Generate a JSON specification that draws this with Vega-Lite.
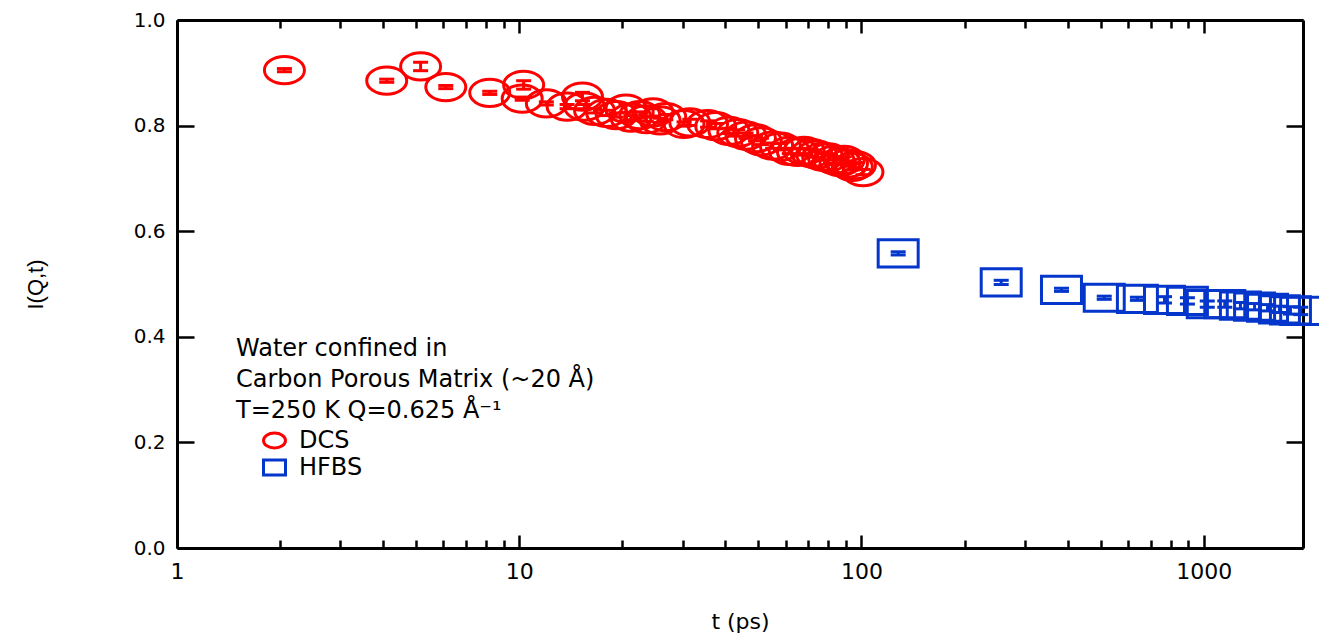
{
  "$schema": "https://vega.github.io/schema/vega-lite/v6.json",
  "width": 1126,
  "height": 528,
  "autosize": "none",
  "padding": {"left": 177, "top": 20, "right": 16, "bottom": 90},
  "background": "white",
  "config": {
    "view": {"stroke": null},
    "font": "DejaVu Sans",
    "axis": {
      "domainColor": "black", "domainWidth": 3, "tickColor": "black", "tickWidth": 2.5,
      "labelColor": "black", "titleColor": "black", "labelFont": "DejaVu Sans", "titleFont": "DejaVu Sans",
      "labelFontSize": 20, "titleFontSize": 22, "titleFontWeight": "normal", "grid": false
    }
  },
  "data": {"values": [
    {"series": "DCS", "t": 2.06, "I": 0.905, "lo": 0.902, "hi": 0.908},
    {"series": "DCS", "t": 4.1, "I": 0.885, "lo": 0.882, "hi": 0.888},
    {"series": "DCS", "t": 5.15, "I": 0.912, "lo": 0.904, "hi": 0.920},
    {"series": "DCS", "t": 6.1, "I": 0.873, "lo": 0.870, "hi": 0.876},
    {"series": "DCS", "t": 8.2, "I": 0.862, "lo": 0.859, "hi": 0.865},
    {"series": "DCS", "t": 10.3, "I": 0.877, "lo": 0.869, "hi": 0.885},
    {"series": "DCS", "t": 10.2, "I": 0.851, "lo": 0.848, "hi": 0.854},
    {"series": "DCS", "t": 12.0, "I": 0.842, "lo": 0.839, "hi": 0.845},
    {"series": "DCS", "t": 13.8, "I": 0.836, "lo": 0.832, "hi": 0.840},
    {"series": "DCS", "t": 15.3, "I": 0.855, "lo": 0.847, "hi": 0.863},
    {"series": "DCS", "t": 15.5, "I": 0.836, "lo": 0.832, "hi": 0.840},
    {"series": "DCS", "t": 16.6, "I": 0.828, "lo": 0.824, "hi": 0.832},
    {"series": "DCS", "t": 18.0, "I": 0.824, "lo": 0.819, "hi": 0.829},
    {"series": "DCS", "t": 19.2, "I": 0.820, "lo": 0.816, "hi": 0.824},
    {"series": "DCS", "t": 20.5, "I": 0.832, "lo": 0.825, "hi": 0.839},
    {"series": "DCS", "t": 21.2, "I": 0.815, "lo": 0.811, "hi": 0.819},
    {"series": "DCS", "t": 22.5, "I": 0.820, "lo": 0.814, "hi": 0.826},
    {"series": "DCS", "t": 23.5, "I": 0.812, "lo": 0.808, "hi": 0.816},
    {"series": "DCS", "t": 24.6, "I": 0.825, "lo": 0.818, "hi": 0.832},
    {"series": "DCS", "t": 25.8, "I": 0.810, "lo": 0.806, "hi": 0.814},
    {"series": "DCS", "t": 26.8, "I": 0.816, "lo": 0.811, "hi": 0.821},
    {"series": "DCS", "t": 30.3, "I": 0.803, "lo": 0.799, "hi": 0.807},
    {"series": "DCS", "t": 31.5, "I": 0.806, "lo": 0.800, "hi": 0.812},
    {"series": "DCS", "t": 35.5, "I": 0.803, "lo": 0.797, "hi": 0.809},
    {"series": "DCS", "t": 37.5, "I": 0.799, "lo": 0.794, "hi": 0.804},
    {"series": "DCS", "t": 41, "I": 0.790, "lo": 0.785, "hi": 0.795},
    {"series": "DCS", "t": 43.5, "I": 0.786, "lo": 0.780, "hi": 0.792},
    {"series": "DCS", "t": 46, "I": 0.781, "lo": 0.776, "hi": 0.786},
    {"series": "DCS", "t": 49, "I": 0.776, "lo": 0.771, "hi": 0.781},
    {"series": "DCS", "t": 51, "I": 0.770, "lo": 0.764, "hi": 0.776},
    {"series": "DCS", "t": 55, "I": 0.762, "lo": 0.757, "hi": 0.767},
    {"series": "DCS", "t": 58, "I": 0.760, "lo": 0.754, "hi": 0.766},
    {"series": "DCS", "t": 61.5, "I": 0.752, "lo": 0.747, "hi": 0.757},
    {"series": "DCS", "t": 65, "I": 0.750, "lo": 0.744, "hi": 0.756},
    {"series": "DCS", "t": 68, "I": 0.752, "lo": 0.747, "hi": 0.757},
    {"series": "DCS", "t": 71.5, "I": 0.748, "lo": 0.742, "hi": 0.754},
    {"series": "DCS", "t": 74, "I": 0.745, "lo": 0.740, "hi": 0.750},
    {"series": "DCS", "t": 77, "I": 0.741, "lo": 0.735, "hi": 0.747},
    {"series": "DCS", "t": 80, "I": 0.740, "lo": 0.735, "hi": 0.745},
    {"series": "DCS", "t": 83, "I": 0.735, "lo": 0.729, "hi": 0.741},
    {"series": "DCS", "t": 86.5, "I": 0.731, "lo": 0.726, "hi": 0.736},
    {"series": "DCS", "t": 89, "I": 0.735, "lo": 0.729, "hi": 0.741},
    {"series": "DCS", "t": 91, "I": 0.728, "lo": 0.723, "hi": 0.733},
    {"series": "DCS", "t": 94, "I": 0.722, "lo": 0.716, "hi": 0.728},
    {"series": "DCS", "t": 96, "I": 0.725, "lo": 0.720, "hi": 0.730},
    {"series": "DCS", "t": 101, "I": 0.712, "lo": 0.707, "hi": 0.717},
    {"series": "HFBS", "t": 128, "I": 0.558, "lo": 0.555, "hi": 0.561},
    {"series": "HFBS", "t": 256, "I": 0.503, "lo": 0.499, "hi": 0.507},
    {"series": "HFBS", "t": 384, "I": 0.489, "lo": 0.486, "hi": 0.492},
    {"series": "HFBS", "t": 512, "I": 0.474, "lo": 0.471, "hi": 0.477},
    {"series": "HFBS", "t": 640, "I": 0.472, "lo": 0.469, "hi": 0.475},
    {"series": "HFBS", "t": 768, "I": 0.470, "lo": 0.464, "hi": 0.476},
    {"series": "HFBS", "t": 896, "I": 0.468, "lo": 0.462, "hi": 0.474},
    {"series": "HFBS", "t": 1024, "I": 0.462, "lo": 0.456, "hi": 0.468},
    {"series": "HFBS", "t": 1152, "I": 0.462, "lo": 0.456, "hi": 0.468},
    {"series": "HFBS", "t": 1280, "I": 0.459, "lo": 0.453, "hi": 0.465},
    {"series": "HFBS", "t": 1408, "I": 0.457, "lo": 0.451, "hi": 0.463},
    {"series": "HFBS", "t": 1536, "I": 0.455, "lo": 0.449, "hi": 0.461},
    {"series": "HFBS", "t": 1664, "I": 0.452, "lo": 0.446, "hi": 0.458},
    {"series": "HFBS", "t": 1792, "I": 0.450, "lo": 0.443, "hi": 0.457},
    {"series": "HFBS", "t": 1920, "I": 0.449, "lo": 0.442, "hi": 0.456}
  ]},
  "layer": [
    {
      "mark": {"type": "point", "filled": false, "strokeWidth": 3, "size": 1600, "opacity": 1},
      "encoding": {
        "x": {"field": "t", "type": "quantitative", "scale": {"type": "log", "domain": [1, 1950], "nice": false},
          "axis": {"orient": "bottom", "title": "t (ps)", "titlePadding": 24, "labelFontSize": 22,
            "values": [1,2,3,4,5,6,7,8,9,10,20,30,40,50,60,70,80,90,100,200,300,400,500,600,700,800,900,1000],
            "labelExpr": "indexof([1,10,100,1000], datum.value) >= 0 ? format(datum.value, 'd') : ''",
            "labelOverlap": false, "labelFlush": false, "labelPadding": 26,
            "tickSize": {"condition": {"test": "indexof([1,10,100,1000], datum.value) >= 0", "value": -13}, "value": -8}}},
        "y": {"field": "I", "type": "quantitative", "scale": {"domain": [0, 1], "nice": false},
          "axis": {"orient": "left", "title": "I(Q,t)", "titleFont": "Liberation Sans", "titlePadding": 86,
            "values": [0, 0.2, 0.4, 0.6, 0.8, 1.0], "format": ".1f", "tickSize": -17, "labelPadding": 29}},
        "stroke": {"field": "series", "type": "nominal", "scale": {"domain": ["DCS", "HFBS"], "range": ["#ff0000", "#0536cc"]},
          "legend": {"orient": "none", "legendX": 59, "legendY": 317,
            "title": ["Water confined in", "Carbon Porous Matrix (~20 Å)", "\u00a0T=250 K Q=0.625 Å⁻¹"],
            "titleFont": "DejaVu Sans", "titleFontSize": 24, "titleFontWeight": "normal", "titleColor": "black",
            "titleLineHeight": 31, "titlePadding": 5, "titleLimit": 600,
            "labelFont": "DejaVu Sans", "labelFontSize": 24, "labelColor": "black", "symbolSize": 484, "symbolStrokeWidth": 3,
            "symbolOffset": 26, "labelOffset": 12, "rowPadding": 0, "padding": 0}},
        "shape": {"field": "series", "type": "nominal",
          "scale": {"domain": ["DCS", "HFBS"], "range": ["M-1,0A1,0.68,0,1,1,1,0A1,0.68,0,1,1,-1,0Z", "M-1,-0.68H1V0.68H-1Z"]}}
      }
    },
    {
      "mark": {"type": "rule", "strokeWidth": 3, "opacity": 1},
      "encoding": {
        "x": {"field": "t", "type": "quantitative",
          "axis": {"orient": "top", "title": null, "labels": false,
            "values": [1,2,3,4,5,6,7,8,9,10,20,30,40,50,60,70,80,90,100,200,300,400,500,600,700,800,900,1000],
            "tickSize": {"condition": {"test": "indexof([1,10,100,1000], datum.value) >= 0", "value": -13}, "value": -8}}},
        "y": {"field": "lo", "type": "quantitative",
          "axis": {"orient": "right", "title": null, "labels": false, "values": [0, 0.2, 0.4, 0.6, 0.8, 1.0], "tickSize": -17}},
        "y2": {"field": "hi"},
        "color": {"condition": {"test": "datum.series === 'DCS'", "value": "#ff0000"}, "value": "#0536cc"}
      }
    },
    {
      "mark": {"type": "tick", "orient": "horizontal", "size": 15, "thickness": 3, "opacity": 1},
      "encoding": {
        "x": {"field": "t", "type": "quantitative", "axis": null},
        "y": {"field": "lo", "type": "quantitative", "axis": null},
        "color": {"condition": {"test": "datum.series === 'DCS'", "value": "#ff0000"}, "value": "#0536cc"}
      }
    },
    {
      "mark": {"type": "tick", "orient": "horizontal", "size": 15, "thickness": 3, "opacity": 1},
      "encoding": {
        "x": {"field": "t", "type": "quantitative", "axis": null},
        "y": {"field": "hi", "type": "quantitative", "axis": null},
        "color": {"condition": {"test": "datum.series === 'DCS'", "value": "#ff0000"}, "value": "#0536cc"}
      }
    }
  ],
  "resolve": {"axis": {"x": "independent", "y": "independent"}}
}
